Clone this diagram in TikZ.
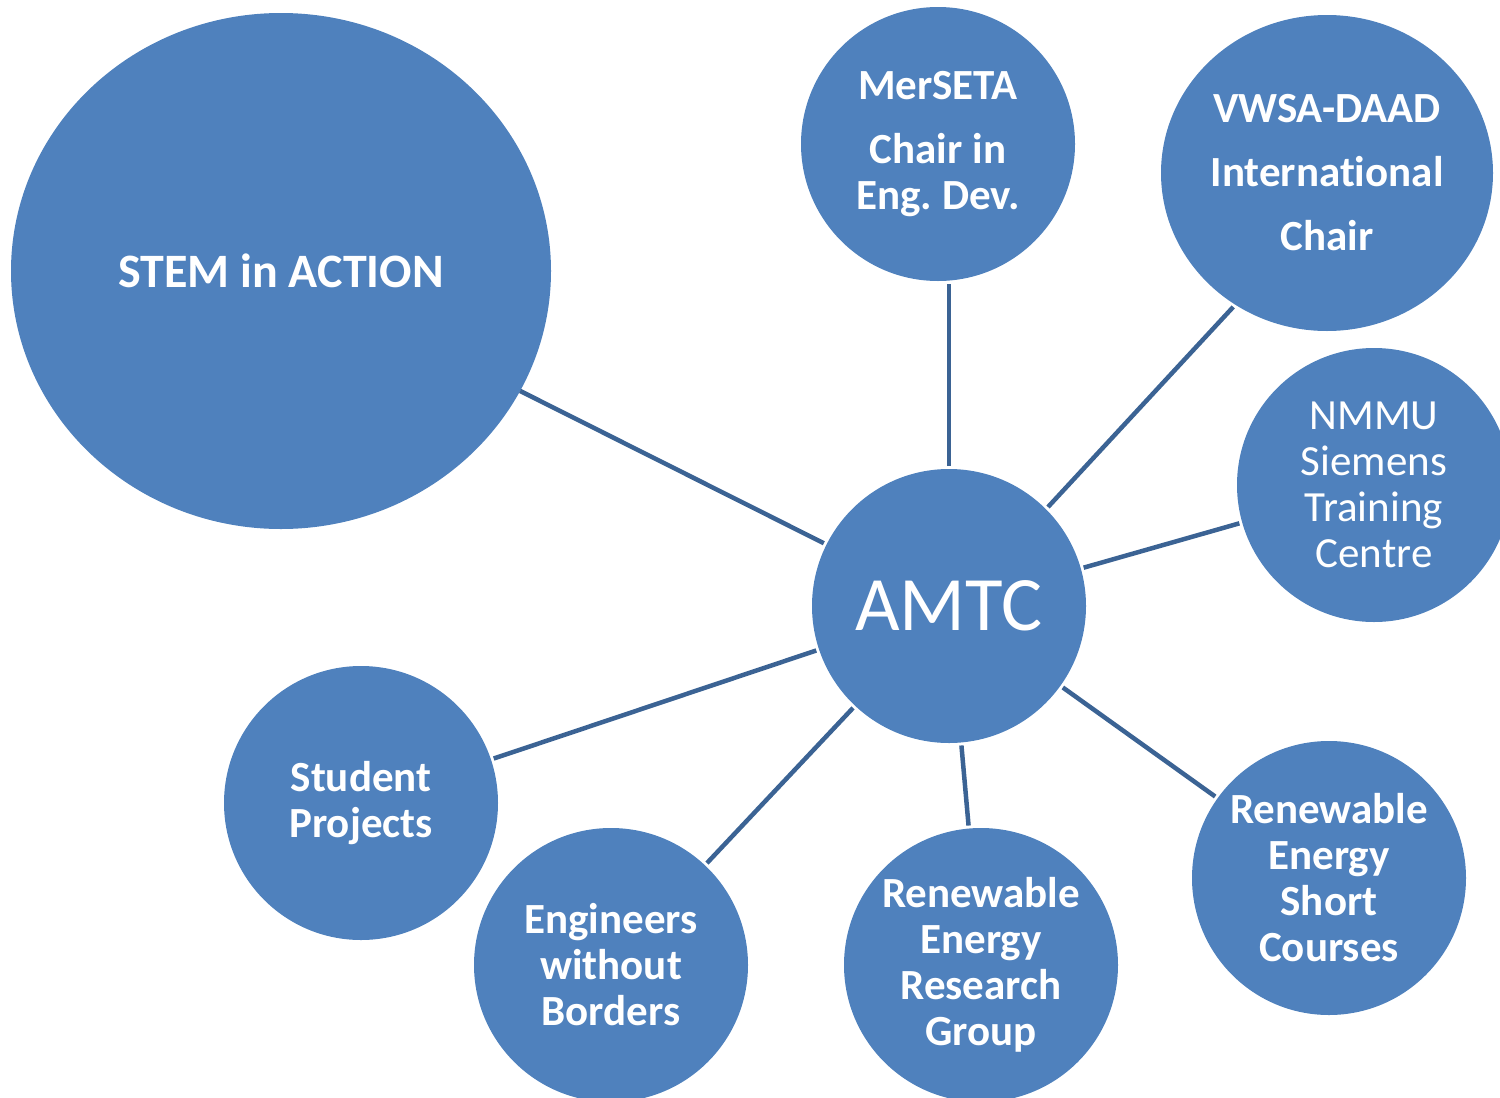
\documentclass[tikz,border=0pt]{standalone}
\usepackage{fontspec}
\setmainfont{Carlito}[Ligatures=NoCommon]
\usetikzlibrary{shapes.geometric}
\definecolor{bubbleblue}{HTML}{4F81BD}
\definecolor{linkblue}{HTML}{3B6394}
\frenchspacing
\begin{document}
\begin{tikzpicture}[x=1pt, y=-1pt]
	\tikzstyle{bubble} = [circle, fill=bubbleblue, text=white, inner sep=0pt, outer sep=3pt, minimum size=274pt, align=center, font={\fontsize{43}{46}\selectfont\bfseries}]
	\tikzstyle{link} = [draw=linkblue, line width=4.5pt]
	\useasboundingbox (0,0) rectangle (1500,1098);

	\node[bubble, font={\fontsize{77}{80}\selectfont}] (amtc) at (949,606) {AMTC};

	\node[bubble, ellipse, minimum width=540pt, minimum height=516pt, outer sep=0pt, font={\fontsize{48}{50}\selectfont\bfseries}] (stem) at (281,271) {STEM in ACTION} edge [link] (amtc);
	\node[bubble] (merseta) at (938,144) {MerSETA\\[18pt] Chair in\\ Eng. Dev.};
	\draw[link] (amtc.north) -- (amtc.north |- merseta.south);
	\node[bubble, ellipse, minimum width=332pt, minimum height=316pt, font={\fontsize{43}{64}\selectfont\bfseries}] (vwsa) at (1327,173) {VWSA-DAAD\\ International\\ Chair};
	\draw[link] (amtc.45) -- (vwsa.235);
	\node[bubble, font={\fontsize{43}{46}\selectfont}] (nmmu) at (1374,485) {NMMU\\ Siemens\\ Training\\ Centre} edge [link] (amtc);

	\node[bubble] (student) at (361,803) {Student\\ Projects} edge [link] (amtc);
	\node[bubble] (ewb) at (611,965) {Engineers\\ without\\ Borders} edge [link] (amtc);
	\node[bubble] (rerg) at (981,965) {Renewable\\ Energy\\ Research\\ Group} edge [link] (amtc);
	\node[bubble] (resc) at (1329,878) {Renewable\\ Energy\\ Short\\ Courses} edge [link] (amtc);
\end{tikzpicture}
\end{document}
